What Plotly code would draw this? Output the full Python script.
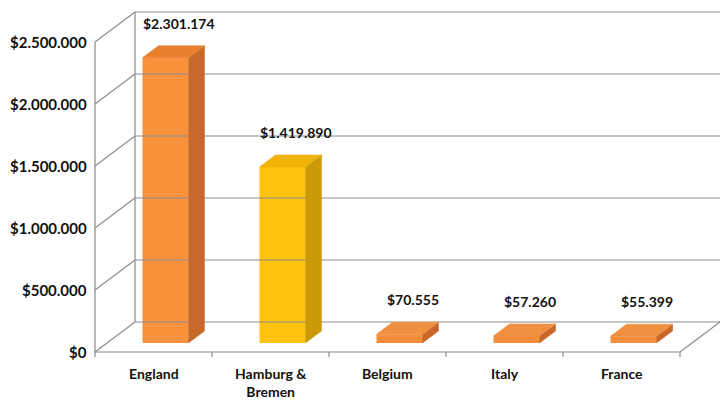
import plotly.graph_objects as go

# ---------------- data ----------------
categories = ["England", "Hamburg &<br>Bremen", "Belgium", "Italy", "France"]
values = [2301174, 1419890, 70555, 57260, 55399]
value_labels = ["$2.301.174", "$1.419.890", "$70.555", "$57.260", "$55.399"]
tick_values = [0, 500000, 1000000, 1500000, 2000000, 2500000]
tick_labels = ["$0", "$500.000", "$1.000.000", "$1.500.000", "$2.000.000", "$2.500.000"]
front_colors = ["#F8923C", "#FFC20E", "#F68D3A", "#F68D3A", "#F68D3A"]
side_colors = ["#C8682A", "#CC9A08", "#C9662A", "#C9662A", "#C9662A"]
top_colors = ["#E9802E", "#EFB30A", "#F09040", "#F09040", "#F09040"]

# ---------------- geometry (oblique projection in data units) ----------------
W, H = 720, 402
PX_X = 117.0            # px per category unit
PX_Y = 124e-6           # px per dollar
X0_PX, Y0_PX = 95, 352  # pixel of (x=-0.5, v=0)
DX = 40 / PX_X          # depth offset in x units
DV = 30 / PX_Y          # depth offset in value units
xmin = -0.5 - X0_PX / PX_X
xmax = -0.5 + (W - X0_PX) / PX_X
vmin = -(H - Y0_PX) / PX_Y
vmax = Y0_PX / PX_Y

def P(x, v, d):
    return x + d * DX, v + d * DV

HW = 23 / PX_X          # bar half width
D_FRONT, D_BACK = 0.3, 0.7
n = len(categories)
GRID = "#8c8c8c"

fig = go.Figure()

def add_lines(segments, color=GRID, width=1.2):
    xs, ys = [], []
    for (a, b) in segments:
        xs += [a[0], b[0], None]
        ys += [a[1], b[1], None]
    fig.add_trace(go.Scatter(x=xs, y=ys, mode="lines", line=dict(color=color, width=width),
                             hoverinfo="skip", showlegend=False))

# walls / gridlines
segs = []
for t in tick_values:
    segs.append((P(-0.5, t, 0), P(-0.5, t, 1)))            # left wall diagonals
    segs.append((P(-0.5, t, 1), (xmax, t + DV)))            # back wall horizontals
segs.append((P(-0.5, 0, 0), P(-0.5, tick_values[-1], 0)))   # front vertical axis
segs.append((P(-0.5, 0, 1), P(-0.5, tick_values[-1], 1)))   # back wall left edge
segs.append((P(-0.5, 0, 0), P(n - 0.5, 0, 0)))              # floor front edge
segs.append((P(n - 0.5, 0, 0), P(n - 0.5, 0, 1)))           # floor right edge
for k in range(n + 1):
    segs.append((P(k - 0.5, 0, 0), P(k - 0.5, -5 / PX_Y, 0)))  # category ticks
add_lines(segs)

# bars
for i, v in enumerate(values):
    # side face
    pts = [P(i + HW, 0, D_FRONT), P(i + HW, 0, D_BACK), P(i + HW, v, D_BACK), P(i + HW, v, D_FRONT)]
    fig.add_trace(go.Scatter(x=[p[0] for p in pts] + [pts[0][0]], y=[p[1] for p in pts] + [pts[0][1]],
                             fill="toself", fillcolor=side_colors[i], mode="lines",
                             line=dict(color=side_colors[i], width=0.5), hoverinfo="skip", showlegend=False))
    # top face
    pts = [P(i - HW, v, D_FRONT), P(i + HW, v, D_FRONT), P(i + HW, v, D_BACK), P(i - HW, v, D_BACK)]
    fig.add_trace(go.Scatter(x=[p[0] for p in pts] + [pts[0][0]], y=[p[1] for p in pts] + [pts[0][1]],
                             fill="toself", fillcolor=top_colors[i], mode="lines",
                             line=dict(color=top_colors[i], width=0.5), hoverinfo="skip", showlegend=False))

# front faces as real bars
fig.add_trace(go.Bar(x=[i + D_FRONT * DX for i in range(n)], y=values, base=D_FRONT * DV,
                     width=2 * HW, marker=dict(color=front_colors, line=dict(width=0)),
                     hoverinfo="skip", showlegend=False))

FONT = "Lato"
TXT = "#111111"
ann = []
for t, lab in zip(tick_values, tick_labels):
    ann.append(dict(x=-0.5 - 6 / PX_X, y=t, text="<b>%s</b>" % lab, showarrow=False,
                    xanchor="right", yanchor="middle", font=dict(size=15, color=TXT, family=FONT)))
for i, c in enumerate(categories):
    ann.append(dict(x=i, y=-11 / PX_Y, text="<b>%s</b>" % c, showarrow=False,
                    xanchor="center", yanchor="top", font=dict(size=14, color=TXT, family=FONT)))
for i, (v, lab) in enumerate(zip(values, value_labels)):
    ann.append(dict(x=i + 0.22, y=v + D_BACK * DV + 12 / PX_Y, text="<b>%s</b>" % lab, showarrow=False,
                    xanchor="center", yanchor="bottom", font=dict(size=14, color=TXT, family=FONT)))

fig.update_layout(
    width=W, height=H, margin=dict(l=0, r=0, t=0, b=0),
    paper_bgcolor="white", plot_bgcolor="white",
    xaxis=dict(range=[xmin, xmax], visible=False, fixedrange=True),
    yaxis=dict(range=[vmin, vmax], visible=False, fixedrange=True),
    annotations=ann, barmode="overlay",
)
fig.write_html("out.html")
